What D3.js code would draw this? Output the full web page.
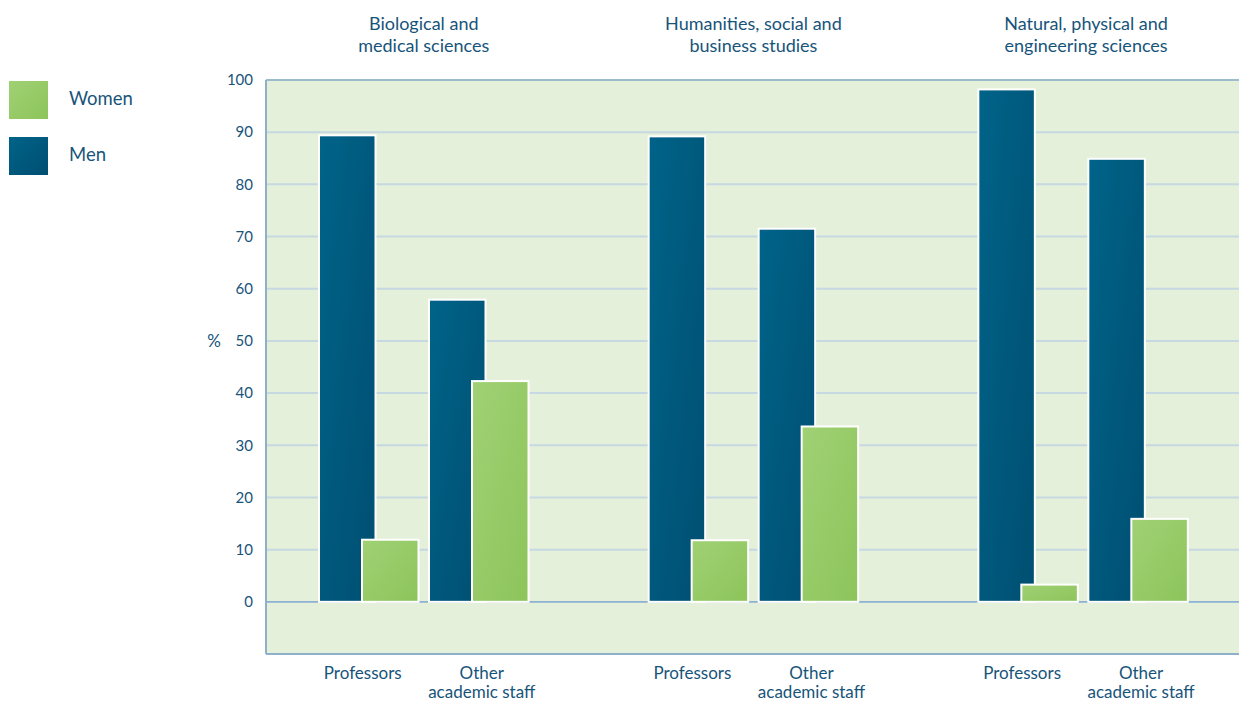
<!DOCTYPE html>
<html>
<head>
<meta charset="utf-8">
<script src="https://cdn.jsdelivr.net/npm/d3@7"></script>
<style>
  html, body { margin: 0; padding: 0; background: #fff; }
  svg { display: block; font-family: Lato, "Open Sans", sans-serif; }
</style>
</head>
<body>
<svg id="chart" width="1239" height="704"></svg>
<script>
// Share of women and men among academic staff, by field and position (%)
const fields = [
  ["Biological and", "medical sciences"],
  ["Humanities, social and", "business studies"],
  ["Natural, physical and", "engineering sciences"]
];
const positions = [["Professors"], ["Other", "academic staff"]];
const series = ["Men", "Women"];
const menValues   = [89.4, 57.9, 89.2, 71.5, 98.2, 84.9];
const womenValues = [11.9, 42.3, 11.8, 33.6, 3.3, 15.9];
const yTicks = [0, 10, 20, 30, 40, 50, 60, 70, 80, 90, 100];

const textColor = "#17547a";
const svg = d3.select("#chart");

const plot = { left: 266, right: 1239, top: 80, bottom: 654 };

const y = d3.scaleLinear().domain([-10, 100]).range([plot.bottom, plot.top]);

const fieldKeys = fields.map(f => f.join(" "));
const posKeys = positions.map(p => p.join(" "));
const xField = d3.scaleBand().domain(fieldKeys).range([293, 1282]);
const xPos = d3.scaleBand().domain(posKeys).range([26, 246]);
const xSeries = d3.scaleBand().domain(series).range([0, 86]);
const barWidth = 56.5;
const pairWidth = xSeries("Women") + barWidth;

// gradients
const defs = svg.append("defs");
function grad(id, c1, c2) {
  const g = defs.append("linearGradient").attr("id", id)
    .attr("x1", "0%").attr("y1", "0%").attr("x2", "100%").attr("y2", "100%");
  g.append("stop").attr("offset", "0%").attr("stop-color", c1);
  g.append("stop").attr("offset", "100%").attr("stop-color", c2);
}
grad("gMen", "#006389", "#004f71");
grad("gWomen", "#a0d175", "#8dc45a");

// plot background
svg.append("rect")
  .attr("x", plot.left).attr("y", plot.top)
  .attr("width", plot.right - plot.left).attr("height", plot.bottom - plot.top)
  .attr("fill", "#e4f0d9");

// gridlines
svg.append("g").selectAll("line")
  .data(yTicks.filter(t => t > 0 && t < 100))
  .join("line")
  .attr("x1", plot.left).attr("x2", plot.right)
  .attr("y1", d => y(d)).attr("y2", d => y(d))
  .attr("stroke", "#c6d8e2").attr("stroke-width", 2);

// zero line
svg.append("line")
  .attr("x1", plot.left).attr("x2", plot.right)
  .attr("y1", y(0)).attr("y2", y(0))
  .attr("stroke", "#8db1d2").attr("stroke-width", 1.8);

// frame: top, left, bottom
svg.append("line").attr("x1", plot.left).attr("x2", plot.right)
  .attr("y1", y(100)).attr("y2", y(100))
  .attr("stroke", "#9bbccc").attr("stroke-width", 2);
svg.append("line").attr("x1", plot.left).attr("x2", plot.left)
  .attr("y1", plot.top).attr("y2", plot.bottom)
  .attr("stroke", "#8eb1c9").attr("stroke-width", 2);
svg.append("line").attr("x1", plot.left).attr("x2", plot.right)
  .attr("y1", plot.bottom).attr("y2", plot.bottom)
  .attr("stroke", "#8eb1c9").attr("stroke-width", 2);

// y axis labels
const yAxis = d3.axisLeft(y).tickValues(yTicks).tickSize(0).tickPadding(0);
const yg = svg.append("g").attr("transform", `translate(253,0)`).call(yAxis);
yg.select(".domain").remove();
yg.selectAll("text")
  .attr("fill", textColor)
  .style("font-size", "15px")
  .style("font-family", "Lato, sans-serif");

svg.append("text")
  .attr("x", 214).attr("y", y(50))
  .attr("dy", "0.35em").attr("text-anchor", "middle")
  .attr("fill", textColor).style("font-size", "17px")
  .text("%");

// bars
const rows = [];
fieldKeys.forEach((f, i) => {
  posKeys.forEach((p, j) => {
    const k = i * posKeys.length + j;
    rows.push({ field: f, pos: p, series: "Men", value: menValues[k] });
    rows.push({ field: f, pos: p, series: "Women", value: womenValues[k] });
  });
});

svg.append("g").selectAll("rect")
  .data(rows)
  .join("rect")
  .attr("x", d => xField(d.field) + xPos(d.pos) + xSeries(d.series))
  .attr("y", d => y(d.value))
  .attr("width", barWidth)
  .attr("height", d => y(0) - y(d.value))
  .attr("fill", d => d.series === "Men" ? "url(#gMen)" : "url(#gWomen)")
  .attr("stroke", "#ffffff")
  .attr("stroke-width", 2);

// field titles, centred over each field's bars
fields.forEach((lines, i) => {
  const x0 = xField(fieldKeys[i]) + xPos(posKeys[0]);
  const x1 = xField(fieldKeys[i]) + xPos(posKeys[1]) + pairWidth;
  const cx = (x0 + x1) / 2 + (i === 2 ? 3 : 0);
  const t = svg.append("text")
    .attr("x", cx).attr("y", 30)
    .attr("text-anchor", "middle")
    .attr("fill", textColor).style("font-size", "18px");
  lines.forEach((l, li) => {
    t.append("tspan").attr("x", cx).attr("dy", li === 0 ? 0 : "1.2em").text(l);
  });
});

// position labels under each pair of bars
const labelShift = [-6, 3];
fieldKeys.forEach(f => {
  positions.forEach((lines, j) => {
    const cx = xField(f) + xPos(posKeys[j]) + pairWidth / 2 + labelShift[j];
    const t = svg.append("text")
      .attr("x", cx).attr("y", 679)
      .attr("text-anchor", "middle")
      .attr("fill", textColor).style("font-size", "17px");
    lines.forEach((l, li) => {
      t.append("tspan").attr("x", cx).attr("dy", li === 0 ? 0 : 19).text(l);
    });
  });
});

// legend
const legend = [
  { label: "Women", fill: "url(#gWomen)", y: 81 },
  { label: "Men", fill: "url(#gMen)", y: 137 }
];
const lg = svg.append("g").selectAll("g").data(legend).join("g");
lg.append("rect")
  .attr("x", 9).attr("y", d => d.y)
  .attr("width", 39).attr("height", 38)
  .attr("fill", d => d.fill);
lg.append("text")
  .attr("x", 69).attr("y", d => d.y + 18)
  .attr("dy", "0.35em")
  .attr("fill", textColor).style("font-size", "18.5px")
  .text(d => d.label);
</script>
</body>
</html>
